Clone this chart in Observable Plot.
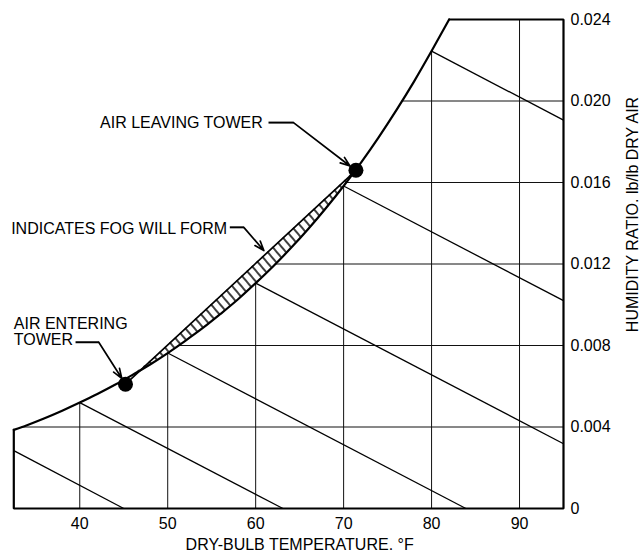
<!DOCTYPE html>
<html>
<head>
<meta charset="utf-8">
<script src="https://cdn.jsdelivr.net/npm/d3@7"></script>
<script src="https://cdn.jsdelivr.net/npm/@observablehq/plot@0.6"></script>
<style>
  html, body { margin: 0; padding: 0; background: #fff; }
</style>
</head>
<body>
<div id="chart"></div>
<script>
// Saturation curve: dry-bulb temperature (°F) and humidity ratio (lb/lb dry air)
const satTemp = [32.5, 34, 36, 38, 40, 42, 44, 46, 48, 50, 52, 54, 56, 58, 60, 62, 64, 66, 68, 70, 72, 74, 76, 78, 80, 82];
const satRatio = [0.00386, 0.00409, 0.00443, 0.00480, 0.00520, 0.00562, 0.00607, 0.00656, 0.00707, 0.00763,
                  0.00823, 0.00886, 0.00955, 0.01027, 0.01106, 0.01189, 0.01278, 0.01373, 0.01475, 0.01583,
                  0.01699, 0.01823, 0.01955, 0.02095, 0.02245, 0.02400];

// Chart limits and tick values
const tempMin = 32.5, tempMax = 95, ratioMax = 0.024;
const tempTicks = [40, 50, 60, 70, 80, 90];
const ratioTicks = [0, 0.004, 0.008, 0.012, 0.016, 0.020, 0.024];

// Wet-bulb lines (30, 40 ... 80 °F): start and end points
const wbStartT = [32.5, 40, 50, 60, 70, 80];
const wbStartW = [0.00284, 0.00520, 0.00763, 0.01106, 0.01583, 0.02245];
const wbEndT   = [45.0, 63.1, 83.9, 95, 95, 95];
const wbEndW   = [0, 0, 0, 0.00318, 0.01020, 0.01906];

// Tower air states: entering and leaving
const stateName = ["entering", "leaving"];
const stateT = [45.2, 71.4];
const stateW = [0.0061, 0.0166];

// Callouts: text, anchor point and leader geometry
const noteText   = ["AIR LEAVING TOWER", "INDICATES FOG WILL FORM", "AIR ENTERING\nTOWER"];
const noteT      = [60.81, 56.76, 32.5];
const noteW      = [0.01892, 0.01374, 0.00869];
const noteAnchor = ["end", "end", "start"];
const leadStartT = [61.46, 57.06, 39.52];
const leadElbowT = [64.30, 58.65, 42.16];
const leadW      = [0.01894, 0.01380, 0.00816];
const leadTipT   = [70.72, 60.93, 44.77];
const leadTipW   = [0.01681, 0.01266, 0.00639];

// Helpers built on the saturation table
const satAt = d3.scaleLinear().domain(satTemp).range(satRatio);
const tempAtSat = d3.scaleLinear().domain(satRatio).range(satTemp);
const mixAt = d3.scaleLinear().domain(stateT).range(stateW);

const satCurve = satTemp.map((T, i) => ({T, W: satRatio[i]}));
const frameOutline = [
  {T: tempMin, W: satRatio[0]}, {T: tempMin, W: 0}, {T: tempMax, W: 0},
  {T: tempMax, W: ratioMax}, {T: satTemp[satTemp.length - 1], W: ratioMax}
];
const vGrid = tempTicks.map(T => ({T, top: T <= satTemp[satTemp.length - 1] ? satAt(T) : ratioMax}));
const hGrid = ratioTicks.filter(W => W > 0 && W < ratioMax).map(W => ({W, start: tempAtSat(W)}));
const wetBulb = wbStartT.map((_, i) => ({x1: wbStartT[i], y1: wbStartW[i], x2: wbEndT[i], y2: wbEndW[i]}));
const states = stateName.map((name, i) => ({name, T: stateT[i], W: stateW[i]}));

// Fog region: between the saturation curve and the straight mixing line
const fogT = [stateT[0], ...satTemp.filter(T => T > stateT[0] && T < stateT[1]), stateT[1]];
const fog = fogT.map(T => {
  const lo = satAt(T);
  return {T, lo, hi: Math.max(lo, mixAt(T))};
});
const mixLine = states.map(d => ({T: d.T, W: d.W}));

const notes = noteText.map((text, i) => ({text, T: noteT[i], W: noteW[i], anchor: noteAnchor[i]}));
const leaders = noteText.map((_, i) => ({sx: leadStartT[i], ex: leadElbowT[i], y: leadW[i], tx: leadTipT[i], ty: leadTipW[i]}));

const fmtRatio = d => d === 0 ? "0" : d3.format(".3f")(d);

const chart = Plot.plot({
  width: 641,
  height: 552,
  marginLeft: 13.3,
  marginRight: 78,
  marginTop: 19,
  marginBottom: 44,
  style: {
    background: "white",
    color: "black",
    fontFamily: "'Liberation Sans', Arial, Helvetica, sans-serif",
    fontSize: "16px"
  },
  x: {domain: [tempMin, tempMax]},
  y: {domain: [0, ratioMax]},
  marks: [
    // grid clipped by the saturation curve
    Plot.ruleX(vGrid, {x: "T", y1: 0, y2: "top", stroke: "#111", strokeWidth: 1}),
    Plot.ruleY(hGrid, {y: "W", x1: "start", x2: tempMax, stroke: "#111", strokeWidth: 1}),
    // wet-bulb lines
    Plot.link(wetBulb, {x1: "x1", y1: "y1", x2: "x2", y2: "y2", stroke: "#000", strokeWidth: 1.3}),
    // hatched fog band
    Plot.areaY(fog, {x: "T", y1: "lo", y2: "hi", fill: "url(#fog-hatch)", curve: "monotone-x"}),
    Plot.line(mixLine, {x: "T", y: "W", stroke: "#000", strokeWidth: 1.7}),
    // saturation curve and chart boundary
    Plot.line(satCurve, {x: "T", y: "W", stroke: "#000", strokeWidth: 2.2, curve: "monotone-x"}),
    Plot.line(frameOutline, {x: "T", y: "W", stroke: "#000", strokeWidth: 2.2, strokeLinejoin: "miter"}),
    // tower air states
    Plot.dot(states, {x: "T", y: "W", r: 7.5, fill: "#000", stroke: "none"}),
    // callout leaders
    Plot.link(leaders, {x1: "sx", y1: "y", x2: "ex", y2: "y", stroke: "#000", strokeWidth: 2}),
    Plot.arrow(leaders, {x1: "ex", y1: "y", x2: "tx", y2: "ty", stroke: "#000", strokeWidth: 1.7, headLength: 9, headAngle: 40}),
    Plot.text(notes.filter(d => d.anchor === "end"), {x: "T", y: "W", text: "text", textAnchor: "end", lineAnchor: "middle", fill: "#000"}),
    Plot.text(notes.filter(d => d.anchor === "start"), {x: "T", y: "W", text: "text", textAnchor: "start", lineAnchor: "middle", lineHeight: 1.0, fill: "#000"}),
    // axes
    Plot.axisX(tempTicks, {tickSize: 0, tickPadding: 9, label: null}),
    Plot.axisY(ratioTicks, {anchor: "right", tickSize: 0, tickPadding: 7, tickFormat: fmtRatio, label: null}),
    Plot.text([{label: "DRY-BULB TEMPERATURE. °F", T: 65}], {x: "T", text: "label", frameAnchor: "bottom", textAnchor: "middle", lineAnchor: "middle", dy: 36, fill: "#000"}),
    Plot.text([{label: "HUMIDITY RATIO. lb/lb DRY AIR", W: 0.01443}], {y: "W", text: "label", frameAnchor: "right", textAnchor: "middle", lineAnchor: "middle", dx: 69, rotate: -90, fill: "#000"})
  ]
});

// Hatch pattern used by the fog band
const ns = "http://www.w3.org/2000/svg";
const defs = document.createElementNS(ns, "defs");
const pattern = document.createElementNS(ns, "pattern");
pattern.setAttribute("id", "fog-hatch");
pattern.setAttribute("patternUnits", "userSpaceOnUse");
pattern.setAttribute("width", "7");
pattern.setAttribute("height", "12");
pattern.setAttribute("patternTransform", "rotate(-40)");
const rung = document.createElementNS(ns, "line");
rung.setAttribute("x1", "1");
rung.setAttribute("y1", "0");
rung.setAttribute("x2", "1");
rung.setAttribute("y2", "12");
rung.setAttribute("stroke", "#000");
rung.setAttribute("stroke-width", "1.5");
pattern.appendChild(rung);
defs.appendChild(pattern);
chart.insertBefore(defs, chart.firstChild);

document.getElementById("chart").appendChild(chart);
</script>
</body>
</html>
